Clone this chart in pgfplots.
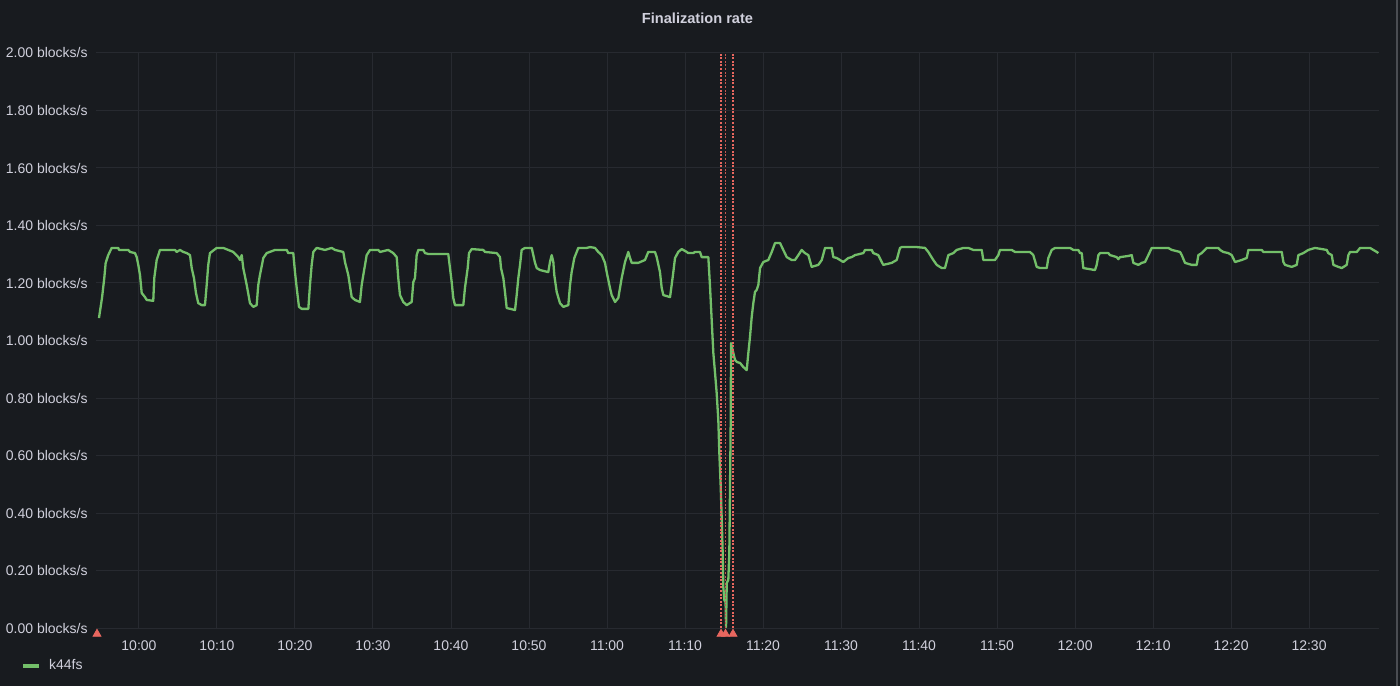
\documentclass[border=0pt]{standalone}
\usepackage{pgfplots}
\pgfplotsset{compat=1.18}
\usepackage{fontspec}
\setmainfont{Liberation Sans}
\definecolor{bg}{HTML}{181B1F}
\definecolor{gridc}{HTML}{272A30}
\definecolor{txt}{HTML}{D0D0DC}
\definecolor{lgreen}{HTML}{73BF69}
\definecolor{annot}{HTML}{E8675F}
\definecolor{border}{HTML}{4A4D52}
\newcommand{\tickfont}{\fontsize{7pt}{8.4pt}\selectfont}
\begin{document}
\begin{tikzpicture}[x=1pt,y=1pt]
\fill[bg] (0,0) rectangle (700,343);
\draw[border, line width=0.6pt] (698.5,0) -- (698.5,343);
\node[text=txt, font=\fontsize{7.3pt}{9pt}\selectfont\bfseries] at (348.75,334) {Finalization rate};
\begin{axis}[
  at={(48pt,29pt)}, anchor=south west,
  scale only axis, width=641.5pt, height=287.5pt,
  xmin=-5.51, xmax=158.97, ymin=0, ymax=2,
  axis line style={draw=none},
  major tick length=0pt,
  xtick={0,10,20,30,40,50,60,70,80,90,100,110,120,130,140,150},
  xticklabels={10:00,10:10,10:20,10:30,10:40,10:50,11:00,11:10,11:20,11:30,11:40,11:50,12:00,12:10,12:20,12:30},
  ytick={0,0.2,0.4,0.6,0.8,1,1.2,1.4,1.6,1.8,2},
  yticklabels={0.00 blocks/s,0.20 blocks/s,0.40 blocks/s,0.60 blocks/s,0.80 blocks/s,1.00 blocks/s,1.20 blocks/s,1.40 blocks/s,1.60 blocks/s,1.80 blocks/s,2.00 blocks/s},
  xticklabel style={font=\tickfont, text=txt, anchor=north, inner sep=0pt, yshift=-6pt},
  yticklabel style={font=\tickfont, text=txt, anchor=east, inner sep=0pt, xshift=-4pt},
  grid=major, major grid style={color=gridc, line width=0.5pt},
  clip=false,
  legend style={at={(-0.0584,-0.0661)}, anchor=west, draw=none, fill=none,
    inner sep=0pt, outer sep=0pt, font=\tickfont, text=txt,
    nodes={inner sep=0pt}, column sep=4pt},
  legend image code/.code={\draw[line width=2pt, lgreen] (0pt,0pt) -- (8pt,0pt);},
]
\addplot[lgreen, line width=1.15pt, line join=round] table {
-5.13 1.078
-4.74 1.148
-4.45 1.217
-4.27 1.270
-3.94 1.297
-3.50 1.322
-2.65 1.322
-2.56 1.315
-1.37 1.315
-1.15 1.308
-0.51 1.304
-0.29 1.290
-0.09 1.263
0.13 1.228
0.35 1.165
0.77 1.151
0.99 1.141
1.83 1.138
1.96 1.217
2.27 1.280
2.69 1.315
4.62 1.315
4.83 1.308
5.26 1.315
5.68 1.308
6.12 1.304
6.54 1.297
6.76 1.252
7.05 1.217
7.31 1.165
7.60 1.130
8.04 1.123
8.46 1.123
8.68 1.193
8.88 1.263
9.10 1.304
9.96 1.322
10.81 1.322
11.45 1.315
12.09 1.308
12.73 1.290
12.95 1.280
13.17 1.297
13.37 1.252
13.81 1.193
14.23 1.130
14.65 1.117
15.09 1.123
15.29 1.193
15.51 1.228
15.94 1.287
16.37 1.304
17.44 1.315
18.94 1.315
19.14 1.304
19.78 1.304
20.00 1.238
20.22 1.183
20.51 1.117
20.86 1.110
21.71 1.110
21.92 1.193
22.14 1.263
22.35 1.308
22.78 1.322
23.85 1.315
24.71 1.322
25.13 1.315
26.19 1.308
26.41 1.273
26.83 1.228
27.27 1.151
27.69 1.141
28.33 1.134
28.55 1.193
28.76 1.228
29.19 1.297
29.62 1.315
30.68 1.315
30.90 1.308
31.96 1.315
32.60 1.304
33.04 1.290
33.24 1.217
33.46 1.158
33.88 1.134
34.32 1.123
34.96 1.134
35.17 1.203
35.38 1.217
35.60 1.297
35.81 1.315
36.45 1.315
36.67 1.304
37.09 1.301
39.65 1.301
39.87 1.252
40.09 1.203
40.29 1.148
40.51 1.123
41.58 1.123
41.79 1.183
42.14 1.252
42.31 1.304
42.65 1.318
44.14 1.315
44.36 1.308
45.86 1.304
46.28 1.290
46.41 1.252
46.71 1.217
46.92 1.169
47.14 1.113
48.21 1.106
48.42 1.158
48.63 1.217
48.85 1.263
49.06 1.315
49.49 1.322
50.35 1.322
50.55 1.297
50.77 1.270
50.99 1.252
51.41 1.245
52.47 1.238
52.69 1.273
52.91 1.297
53.12 1.273
53.24 1.228
53.55 1.169
53.97 1.130
54.40 1.117
55.04 1.123
55.26 1.193
55.47 1.238
55.81 1.287
56.32 1.322
57.40 1.322
57.82 1.325
58.46 1.322
58.88 1.308
59.32 1.297
59.74 1.270
59.96 1.238
60.38 1.183
60.60 1.158
61.03 1.134
61.45 1.148
61.88 1.217
62.31 1.273
62.73 1.308
62.95 1.287
63.17 1.270
64.01 1.270
64.87 1.280
65.29 1.308
66.15 1.308
66.37 1.290
66.79 1.238
67.01 1.183
67.22 1.158
68.08 1.151
68.29 1.193
68.50 1.238
68.72 1.287
69.14 1.308
69.58 1.318
70.22 1.308
70.42 1.304
71.06 1.304
71.28 1.308
71.92 1.308
72.14 1.290
72.99 1.290
73.21 1.186
73.42 1.071
73.63 0.957
73.85 0.887
74.06 0.817
74.27 0.723
74.40 0.609
74.58 0.490
74.71 0.376
74.83 0.261
74.91 0.143
75.04 0.097
75.20 0.090
75.26 0.003
75.35 0.157
75.55 0.167
75.68 0.261
75.77 0.490
75.86 0.723
75.90 0.991
76.19 0.957
76.41 0.932
76.67 0.925
77.05 0.922
77.47 0.908
77.91 0.897
78.12 0.957
78.33 1.012
78.55 1.082
78.76 1.130
78.97 1.169
79.19 1.176
79.40 1.193
79.62 1.252
80.04 1.273
80.68 1.280
81.12 1.308
81.54 1.339
82.18 1.339
82.60 1.315
83.04 1.290
83.68 1.280
84.10 1.280
84.53 1.297
84.96 1.315
85.38 1.304
85.81 1.297
86.24 1.256
87.09 1.263
87.53 1.280
87.95 1.322
88.81 1.322
89.01 1.290
89.45 1.287
89.87 1.280
90.29 1.273
90.94 1.287
91.37 1.290
91.79 1.297
92.86 1.304
93.08 1.315
93.94 1.315
94.14 1.304
94.78 1.297
95.22 1.273
95.42 1.263
96.50 1.270
97.14 1.280
97.56 1.322
97.78 1.325
99.71 1.325
100.77 1.322
101.19 1.308
101.83 1.280
102.27 1.263
102.91 1.252
103.33 1.252
103.76 1.297
104.40 1.304
104.83 1.315
105.68 1.322
106.32 1.322
106.96 1.315
108.04 1.315
108.24 1.280
109.74 1.280
110.17 1.297
110.38 1.315
111.88 1.315
112.31 1.308
114.23 1.308
114.65 1.297
115.09 1.256
115.51 1.252
116.37 1.252
116.58 1.287
117.01 1.315
117.44 1.322
119.36 1.322
119.78 1.315
120.42 1.315
120.64 1.304
120.86 1.304
121.06 1.252
122.56 1.245
122.78 1.263
122.99 1.297
123.21 1.304
124.27 1.304
124.49 1.297
125.35 1.290
125.55 1.283
125.77 1.290
126.83 1.294
127.27 1.297
127.47 1.270
128.12 1.263
128.55 1.270
128.97 1.273
129.40 1.297
129.83 1.322
131.96 1.322
132.40 1.315
133.46 1.308
133.68 1.297
134.10 1.270
134.96 1.263
135.60 1.263
135.81 1.297
136.24 1.304
136.88 1.322
138.37 1.322
138.59 1.315
139.01 1.308
139.65 1.304
140.09 1.297
140.51 1.273
141.37 1.280
142.01 1.287
142.22 1.315
143.94 1.315
144.14 1.308
146.50 1.308
146.71 1.273
146.92 1.263
147.78 1.256
148.42 1.263
148.63 1.297
149.27 1.304
149.91 1.315
150.77 1.322
151.63 1.318
152.27 1.315
152.47 1.304
152.91 1.297
153.12 1.263
153.76 1.256
154.19 1.252
154.83 1.263
155.04 1.297
155.26 1.308
156.12 1.308
156.54 1.322
157.82 1.322
158.24 1.315
158.68 1.308
158.88 1.304
};
\addlegendentry{k44fs}
\addplot[annot, line width=1.3pt, dash pattern=on 1pt off 0.8pt, forget plot] coordinates {(74.62,0) (74.62,2)};
\addplot[annot!85!black, line width=0.8pt, dash pattern=on 1pt off 0.8pt, forget plot] coordinates {(75.19,0) (75.19,2)};
\addplot[annot, line width=1.3pt, dash pattern=on 1pt off 0.8pt, forget plot] coordinates {(76.15,0) (76.15,2)};
\addplot[only marks, mark=triangle*, mark size=2.3pt, color=annot, mark options={yshift=-3pt}, forget plot] coordinates {(-5.38,0) (74.62,0) (75.19,0) (76.15,0)};
\end{axis}
\pgfresetboundingbox
\useasboundingbox (0,0) rectangle (700,343);
\end{tikzpicture}
\end{document}
